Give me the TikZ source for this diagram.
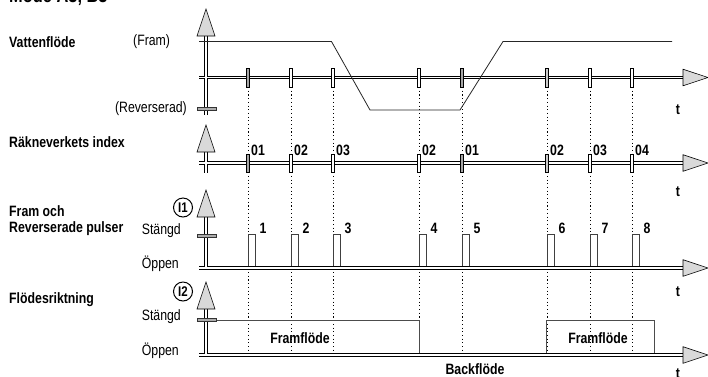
\documentclass[tikz,border=0pt]{standalone}
\usepackage{fontspec}
\setmainfont{Liberation Sans}[FakeStretch=0.82]
\usetikzlibrary{positioning}

\tikzset{
  uphead/.pic={\filldraw[head] (-9,27) -- (0,0) -- (9,27) -- cycle;},
  righthead/.pic={\filldraw[head] (-25,-8.3) -- (0,0) -- (-25,8.3) -- cycle;}
}
\newcommand\axisline[1]{\draw[axisouter] #1; \draw[axisinner] #1;}

\begin{document}
\begin{tikzpicture}[
    x=1pt, y=-1pt,
    font=\fontsize{15}{17}\selectfont,
    lbl/.style={font=\fontsize{15}{17}\selectfont\bfseries},
    axisouter/.style={line width=3.2pt},
    axisinner/.style={white,line width=1.2pt},
    head/.style={draw=black,fill=gray!30,line width=0.6pt,line join=miter},
    tickbox/.style={draw=black,line width=0.5pt},
    levelbar/.style={draw=black!80,fill=gray!65,line width=0.4pt},
    guide/.style={line width=0.7pt,dash pattern=on 1.1pt off 2.6pt},
    signal/.style={draw=black!85,line width=0.8pt,line join=miter},
    pulse/.style={draw=black!75,line width=0.6pt},
    ring/.style={circle,draw=black,line width=1pt,inner sep=0pt,minimum size=19pt,
      font=\fontsize{14}{16}\selectfont\bfseries}
  ]
  \useasboundingbox (0,0) rectangle (708,376);
  \node[font=\fontsize{20}{22}\selectfont\bfseries,anchor=base west,inner sep=0pt] (title) at (9,2) {Mode A3, B3};

  % guides
  \foreach \x in {248,291,333,419,462,547,590,632}
    \draw[guide] (\x,87) -- (\x,355);

  % pulses and flow direction (below the axes)
  \foreach \x [count=\i] in {248,291,333,419,462,547,590,632}{
    \draw[pulse] (\x,268) -- (\x,234) -- (\x+7,234) -- (\x+7,268);
    \node[lbl] (pn\i) at (\x+15,228) {\i};
  }
  \draw[signal,draw=black!70,line width=0.7pt] (206,320) -- (419,320) -- (419,355);
  \draw[signal,draw=black!70,line width=0.7pt] (546,355) -- (546,320) -- (654,320) -- (654,355);

  % axes
  \axisline{(206,34) -- (206,115) (199,77.5) -- (683,77.5)}
  \axisline{(206,152) -- (206,173) (199,163) -- (683,163)}
  \axisline{(206,217) -- (206,268) -- (683,268) (199,268) -- (206,268)}
  \axisline{(206,309) -- (206,355) -- (683,355) (199,355) -- (206,355)}
  \foreach \y in {9,125,190,282} \pic at (206,\y) {uphead};
  \foreach \y in {77.5,163,268,355} \pic at (708,\y) {righthead};

  % ticks
  \foreach \x/\f in {248/gray!70,291/white,333/white,419/white,462/gray!70,547/gray!40,590/white,632/white}{
    \filldraw[tickbox,fill=\f] (\x-1.7,68) rectangle (\x+1.7,87);
    \filldraw[tickbox,fill=\f] (\x-1.7,154) rectangle (\x+1.7,172);
  }
  \foreach \x/\c [count=\i] in {248/01,291/02,333/03,419/02,462/01,547/02,590/03,632/04}
    \node[lbl,anchor=west,inner sep=1pt] (idx\i) at (\x+2,150) {\c};

  \filldraw[levelbar] (197,107.5) rectangle (216,110.5);
  \filldraw[levelbar] (197,234.5) rectangle (216,237.5);
  \filldraw[levelbar] (197,318.5) rectangle (216,321.5);

  % water flow
  \draw[signal] (199,41.5) -- (331.5,41.5) -- (370,110) -- (460,110) -- (503,41.5) -- (672,41.5);

  % labels
  \node[lbl,anchor=west,inner sep=0pt] (vatten) at (9,42) {Vattenflöde};
  \node[anchor=west,inner sep=0pt] (fram) at (133,42) {(Fram)};
  \node[anchor=east,inner sep=0pt] (rev) at (187,109) {(Reverserad)};
  \node[lbl,anchor=west,inner sep=0pt] (rakn) at (9,142) {Räkneverkets index};
  \node[lbl,anchor=west,inner sep=0pt] (framoch) at (9,211) {Fram och};
  \node[lbl,anchor=west,inner sep=0pt] (revpuls) at (9,229) {Reverserade pulser};
  \node[anchor=east,inner sep=0pt] (st1) at (181,231) {Stängd};
  \node[anchor=east,inner sep=0pt] (op1) at (179,264) {Öppen};
  \node[lbl,anchor=west,inner sep=0pt] (riktn) at (9,300) {Flödesriktning};
  \node[anchor=east,inner sep=0pt] (st2) at (181,317) {Stängd};
  \node[anchor=east,inner sep=0pt] (op2) at (179,351) {Öppen};
  \node[ring] (i1) at (183,207.5) {I1};
  \node[ring] (i2) at (183,291.5) {I2};
  \node[lbl] (ff1) at (300,338) {Framflöde};
  \node[lbl] (ff2) at (598,338) {Framflöde};
  \node[lbl] (back) at (475,369) {Backflöde};
  \foreach \y [count=\i] in {110,192,292,374}
    \node[lbl] (t\i) at (678,\y) {t};
\end{tikzpicture}
\end{document}
